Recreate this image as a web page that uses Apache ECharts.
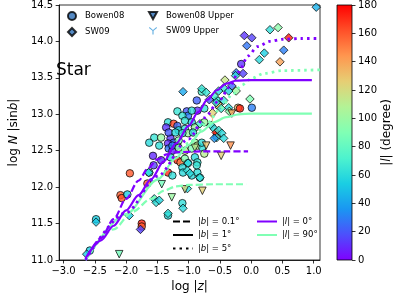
<!DOCTYPE html>
<html>
<head>
<meta charset="utf-8">
<script src="https://cdn.jsdelivr.net/npm/echarts@6/dist/echarts.min.js"></script>
<style>html,body{margin:0;padding:0;background:#fff;}#c{width:399px;height:298px;}</style>
</head>
<body>
<div id="c"></div>
<script>
// ---- data ----
const xTicks = [-3.0, -2.5, -2.0, -1.5, -1.0, -0.5, 0.0, 0.5, 1.0];
const yTicks = [11.0, 11.5, 12.0, 12.5, 13.0, 13.5, 14.0, 14.5];
const cbTicks = [0, 20, 40, 60, 80, 100, 120, 140, 160, 180];

// [log|z|, log N|sin b|, |l| (deg)]
const bowen08 = [
  [-0.16,13.69,12],[-0.21,13.09,130],[-0.18,13.08,172],[0.01,13.09,30],[-0.79,13.31,70],
  [-1.18,13.04,65],[-1.03,13.04,20],[-1.01,12.98,30],[-0.86,13.05,10],[-1.10,12.98,65],
  [-1.33,12.89,62],[-1.24,12.87,165],[-1.18,12.84,25],[-1.36,12.82,12],[-1.06,12.91,65],
  [-0.95,12.89,60],[-0.90,12.82,100],[-0.75,12.89,100],[-1.16,12.78,60],[-1.06,12.80,65],
  [-1.01,12.74,100],[-0.93,12.75,62],[-1.55,12.68,65],[-1.44,12.68,98],[-1.29,12.67,12],
  [-1.24,12.61,25],[-1.33,12.60,10],[-1.18,12.57,30],[-1.16,12.64,90],[-0.90,12.61,100],
  [-0.86,12.57,115],[-0.78,12.54,62],[-1.32,12.53,28],[-1.26,12.50,10],[-1.06,12.50,112],
  [-0.95,12.53,90],[-1.57,12.43,10],[-1.44,12.37,12],[-1.56,12.30,15],[-1.29,12.41,62],
  [-1.18,12.37,170],[-1.13,12.34,150],[-1.06,12.39,92],[-1.01,12.33,62],[-0.90,12.41,60],
  [-0.86,12.34,65],[-1.10,12.27,60],[-1.63,12.20,62],[-1.33,12.20,170],[-1.26,12.16,62],
  [-0.95,12.16,60],[-0.86,12.20,62],[-1.66,12.05,160],[-1.10,11.78,62],[-1.33,11.61,60],
  [-1.94,12.19,160],[-2.09,11.89,158],[-2.07,11.85,162],[-1.98,11.90,55],[-2.48,11.56,55],
  [-1.75,11.50,172],[-1.75,11.46,160],[-2.58,11.13,55],[-0.82,12.13,60],[-0.55,12.71,172],
  [-1.63,12.61,60],[-0.75,12.46,110],[-0.79,12.61,62],[-0.87,12.30,65],[-1.09,12.20,60],
  [-0.75,13.08,65],[-0.87,13.19,22],[-0.55,13.19,62],[-0.52,13.12,130],[-0.95,13.05,62],
  [-1.32,12.75,20],[-1.21,12.75,60],[-1.10,12.74,65],[-1.26,12.57,30],[-1.47,12.57,62],
  [-1.16,12.54,95]
];
const sw09 = [
  [1.04,14.47,45],[0.30,14.16,62],[0.43,14.19,95],[0.60,14.05,175],[0.52,13.88,30],
  [0.46,13.72,140],[0.13,13.75,60],[0.21,13.84,55],[-0.11,14.08,12],[0.01,14.05,15],
  [-0.07,13.94,28],[-0.13,13.56,15],[-0.24,13.57,30],[-0.25,13.53,60],[-0.42,13.47,115],
  [-0.31,13.39,25],[-0.24,13.32,100],[-0.44,13.36,65],[-0.52,13.32,60],[-0.59,13.25,70],
  [-0.36,13.32,55],[-0.02,13.21,90],[-0.79,13.35,65],[-1.09,13.31,42],[-0.67,13.20,20],
  [-0.56,13.16,62],[-0.44,13.19,65],[-0.36,13.09,60],[-0.35,13.04,95],[-0.48,13.08,68],
  [-0.62,13.02,125],[-0.82,12.87,70],[-0.64,12.85,65],[-0.59,12.80,60],[-0.56,12.75,170],
  [-0.52,12.78,65],[-0.47,12.74,60],[-0.55,12.68,62],[-0.44,12.67,60],[-0.59,12.67,35],
  [-1.02,12.23,62],[-1.64,12.20,60],[-1.55,11.84,60],[-1.52,11.79,62],[-1.47,11.82,58],
  [-1.09,11.71,60],[-1.33,11.64,62],[-1.95,11.61,55],[-2.48,11.52,52],[-1.77,11.42,15],
  [-2.63,11.08,55],[-1.01,12.33,60],[-0.98,12.19,60],[-0.82,12.13,62],[-1.02,11.98,60],
  [-0.72,13.30,65]
];
const bowen08Upper = [
  [-0.72,12.57,130],[-0.48,12.43,125],[-0.33,12.57,145],[-0.31,13.01,140],[-1.06,11.97,120],
  [-0.78,11.95,125],[-1.27,11.86,100],[-1.43,12.04,85],[-2.11,11.08,85],[-0.90,12.54,110]
];
const sw09Upper = [[-0.62,12.95,140]];

// model curves [log|z|, log N|sin b|]
const l0b01 = [[-2.62,11.05],[-2.4,11.3],[-2.2,11.56],[-2.0,11.84],[-1.8,12.09],[-1.65,12.26],[-1.5,12.38],[-1.35,12.45],[-1.2,12.48],[-0.8,12.49],[-0.4,12.49],[-0.05,12.49]];
const l0b1 = [[-2.65,11.02],[-2.4,11.27],[-2.2,11.47],[-2.0,11.68],[-1.8,11.89],[-1.6,12.11],[-1.4,12.35],[-1.2,12.6],[-1.0,12.84],[-0.85,13.03],[-0.7,13.2],[-0.55,13.33],[-0.4,13.42],[-0.25,13.46],[0,13.47],[0.5,13.47],[0.97,13.47]];
const l0b5 = [[-2.65,11.0],[-2.0,11.65],[-1.5,12.15],[-1.0,12.66],[-0.75,12.95],[-0.5,13.2],[-0.35,13.37],[-0.2,13.58],[-0.05,13.8],[0.1,13.93],[0.3,14.0],[0.5,14.03],[0.8,14.04],[1.1,14.04]];
const l90b01 = [[-2.65,11.0],[-2.2,11.42],[-1.9,11.66],[-1.6,11.84],[-1.4,11.95],[-1.2,12.01],[-1.0,12.03],[-0.6,12.04],[-0.08,12.04]];
const l90b1 = [[-2.65,11.0],[-2.0,11.63],[-1.5,12.1],[-1.2,12.4],[-1.0,12.58],[-0.8,12.76],[-0.6,12.89],[-0.4,12.96],[-0.2,13.0],[0,13.01],[0.97,13.01]];
const l90b5 = [[-2.65,11.0],[-2.0,11.64],[-1.5,12.13],[-1.0,12.6],[-0.7,12.88],[-0.5,13.07],[-0.3,13.27],[-0.15,13.4],[0,13.49],[0.2,13.56],[0.5,13.6],[1.1,13.61]];

// ---- styling ----
const rainbow = ['#8000ff','#4d4ffc','#1a96f2','#1acee3','#4df3ce','#80ffb4','#b3f396','#e6ce74','#ff964f','#ff4f28','#ff0000'];
const PURPLE = '#8000ff', GREEN = '#80ffb4';
const FONT = 'DejaVu Sans';
const DASH = [7, 3], DOT = [2.5, 4];
const fmt = v => { const s = v.toFixed(1); return s.startsWith('-') ? '\u2212' + s.slice(1) : s; };
const triDown = 'path://M-1,-0.62 L-0.86,-0.84 L0,-0.12 L0.86,-0.84 L1,-0.62 L0.14,0.08 L0.14,1 L-0.14,1 L-0.14,0.08 Z';
const triangleDown = 'path://M-1,-0.9 L1,-0.9 L0,0.9 Z';

const legendLabels = {
  'b01': '|{i|b}| = 0.1°', 'b1': '|{i|b}| = 1°', 'b5': '|{i|b}| = 5°',
  'l0': '|{i|l}| = 0°', 'l90': '|{i|l}| = 90°'
};
const legText = { fontSize: 8.5, fontFamily: FONT, color: '#000', rich: { i: { fontStyle: 'italic', fontSize: 8.5, fontFamily: FONT } } };
const mkText = { fontSize: 8.5, fontFamily: FONT, color: '#000', padding: [0, 0, 0, 4] };

function curve(name, data, color, type, width) {
  return { name: name, type: 'line', data: data, symbol: 'none', showSymbol: false, smooth: 0.3, smoothMonotone: 'x',
    lineStyle: { color: color, width: width, type: type, cap: 'butt' }, itemStyle: { color: color }, z: 5, silent: true, animation: false };
}
function dummy(name, color, type, width) {
  return { name: name, type: 'line', data: [], symbol: 'none', lineStyle: { color: color, width: width, type: type, cap: 'butt' }, itemStyle: { color: color }, animation: false };
}
const scatterStyle = (c) => ({ color: c, borderColor: '#000', borderWidth: 0.9 });
const noMark = { color: 'rgba(0,0,0,0)', borderWidth: 0, opacity: 0 };

const chart = echarts.init(document.getElementById('c'), null, { renderer: 'canvas' });
chart.setOption({
  animation: false,
  backgroundColor: '#fff',
  grid: [
    { left: 50, top: 4, width: 270, height: 256, show: true, borderColor: '#000', borderWidth: 0.8, backgroundColor: 'transparent' },
    { left: 337, top: 4, width: 15, height: 256, show: true, borderColor: '#000', borderWidth: 0.8,
      backgroundColor: { type: 'linear', x: 0, y: 1, x2: 0, y2: 0, colorStops: rainbow.map((c, i) => ({ offset: i / (rainbow.length - 1), color: c })) } }
  ],
  xAxis: [
    { type: 'value', gridIndex: 0, min: -3.07, max: 1.1, splitLine: { show: false },
      axisLine: { onZero: false, lineStyle: { color: '#000', width: 0.8 } },
      axisTick: { show: true, length: 3.5, lineStyle: { color: '#000', width: 0.8 }, customValues: xTicks },
      axisLabel: { customValues: xTicks, formatter: fmt, color: '#000', fontSize: 10, fontFamily: FONT, margin: 6 },
      name: 'log |{i|z}|', nameLocation: 'middle', nameGap: 19,
      nameTextStyle: { fontSize: 12, color: '#000', fontFamily: FONT, rich: { i: { fontStyle: 'italic', fontSize: 12, fontFamily: FONT } } } },
    { type: 'value', gridIndex: 1, min: 0, max: 1, show: false }
  ],
  yAxis: [
    { type: 'value', gridIndex: 0, min: 11, max: 14.5, interval: 0.5, splitLine: { show: false },
      axisLine: { onZero: false, lineStyle: { color: '#000', width: 0.8 } },
      axisTick: { show: true, length: 3.5, lineStyle: { color: '#000', width: 0.8 } },
      axisLabel: { formatter: v => v.toFixed(1), color: '#000', fontSize: 10, fontFamily: FONT, margin: 6 },
      name: 'log {i|N} |sin{i|b}|', nameLocation: 'middle', nameGap: 30, nameRotate: 90,
      nameTextStyle: { fontSize: 12, color: '#000', fontFamily: FONT, rich: { i: { fontStyle: 'italic', fontSize: 12, fontFamily: FONT } } } },
    { type: 'value', gridIndex: 1, min: 0, max: 180, interval: 20, position: 'right', splitLine: { show: false },
      axisLine: { show: false, onZero: false },
      axisTick: { show: true, length: 3.5, lineStyle: { color: '#000', width: 0.8 } },
      axisLabel: { color: '#000', fontSize: 10, fontFamily: FONT, margin: 6 },
      name: '|{i|l}| (degree)', nameLocation: 'middle', nameGap: 27, nameRotate: 90,
      nameTextStyle: { fontSize: 12, color: '#000', fontFamily: FONT, rich: { i: { fontStyle: 'italic', fontSize: 12, fontFamily: FONT } } } }
  ],
  visualMap: { type: 'continuous', show: false, min: 0, max: 180, dimension: 2, seriesIndex: [0, 1, 2, 3], inRange: { color: rainbow } },
  legend: [
    { data: ['Bowen08', 'SW09'], orient: 'vertical', left: 62, top: 6, itemWidth: 8, itemHeight: 8, itemGap: 6, textStyle: mkText, selectedMode: false },
    { data: ['Bowen08 Upper', 'SW09 Upper'], orient: 'vertical', left: 143, top: 6, itemWidth: 8, itemHeight: 8, itemGap: 6, textStyle: mkText, selectedMode: false },
    { data: ['b01', 'b1', 'b5'], orient: 'vertical', left: 167, top: 212, itemWidth: 20, itemHeight: 8, itemGap: 4.5, formatter: n => legendLabels[n], textStyle: legText, itemStyle: noMark, selectedMode: false },
    { data: ['l0', 'l90'], orient: 'vertical', left: 251, top: 212, itemWidth: 20, itemHeight: 8, itemGap: 4.5, formatter: n => legendLabels[n], textStyle: legText, itemStyle: noMark, selectedMode: false }
  ],
  graphic: [
    { type: 'text', left: 56, top: 62, style: { text: 'Star', fontSize: 17, fontFamily: FONT, fill: '#000' } }
  ],
  series: [
    { name: 'Bowen08', type: 'scatter', symbol: 'circle', symbolSize: 7.5, data: bowen08, itemStyle: scatterStyle('#2a6db5'), z: 2 },
    { name: 'SW09', type: 'scatter', symbol: 'diamond', symbolSize: 8.5, data: sw09, itemStyle: scatterStyle('#2a6db5'), z: 2 },
    { name: 'Bowen08 Upper', type: 'scatter', symbol: triangleDown, symbolSize: 7.5, data: bowen08Upper, itemStyle: scatterStyle('#2a6db5'), z: 2 },
    { name: 'SW09 Upper', type: 'scatter', symbol: triDown, symbolSize: 7, data: sw09Upper, itemStyle: { color: '#3a9ad9' }, z: 2 },
    curve('g_b01', l90b01, GREEN, DASH, 2.2),
    curve('g_b1', l90b1, GREEN, 'solid', 2.2),
    curve('g_b5', l90b5, GREEN, DOT, 2.8),
    curve('p_b01', l0b01, PURPLE, DASH, 2.2),
    curve('p_b5', l0b5, PURPLE, DOT, 2.8),
    curve('p_b1', l0b1, PURPLE, 'solid', 2.2),
    dummy('b01', '#000', DASH, 2.2),
    dummy('b1', '#000', 'solid', 2.2),
    dummy('b5', '#000', DOT, 2.8),
    dummy('l0', PURPLE, 'solid', 2.2),
    dummy('l90', GREEN, 'solid', 2.2)
  ]
});
</script>
</body>
</html>
